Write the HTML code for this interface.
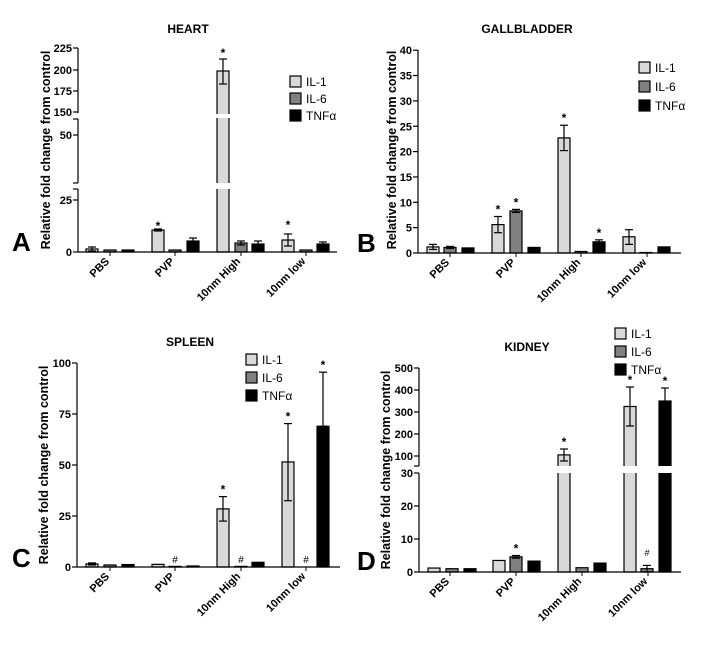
<!DOCTYPE html>
<html><head><meta charset="utf-8"><style>
body{margin:0;background:#fff}
svg text{font-family:"Liberation Sans",Arial,sans-serif}
</style></head><body>
<svg id="s" width="704" height="643" xmlns="http://www.w3.org/2000/svg"></svg>
<script>
const s=document.getElementById('s');let h='';
const C=['#d9d9d9','#808080','#000'];
function bar(x,top,bot,c,gaps){h+=`<rect x="${x}" y="${top}" width="12" height="${bot-top}" fill="${C[c]}" stroke="#000" stroke-width="1.2"/>`;
 (gaps||[]).forEach(g=>{h+=`<rect x="${x-2}" y="${g[0]}" width="16" height="${g[1]-g[0]}" fill="#fff"/>`;});}
function err(x,a,b){const c=x+6;h+=`<line x1="${c}" y1="${a}" x2="${c}" y2="${b}" stroke="#000" stroke-width="1.2"/><line x1="${c-4}" y1="${a}" x2="${c+4}" y2="${a}" stroke="#000" stroke-width="1.2"/><line x1="${c-4}" y1="${b}" x2="${c+4}" y2="${b}" stroke="#000" stroke-width="1.2"/>`;}
function txt(x,y,t,o){o=o||{};h+=`<text x="${x}" y="${y}" font-size="${o.fs||11}" font-weight="${o.w||'bold'}" text-anchor="${o.a||'middle'}" ${o.tr?`transform="${o.tr}"`:''} fill="#000">${t}</text>`;}
function star(x,y){txt(x+6,y,'*',{fs:12});}
function hash(x,y){txt(x+6,y,'#',{fs:10,w:'normal'});}
function axisSeg(ax,y1,y2){h+=`<line x1="${ax}" y1="${y1}" x2="${ax}" y2="${y2}" stroke="#000" stroke-width="1.2"/>`;}
function tick(ax,y,l){h+=`<line x1="${ax-5}" y1="${y}" x2="${ax}" y2="${y}" stroke="#000" stroke-width="1.2"/>`;if(l!==null)txt(ax-6,y+4,l,{a:'end'});}
function xaxis(ax,x2,y,gx){h+=`<line x1="${ax}" y1="${y}" x2="${x2}" y2="${y}" stroke="#000" stroke-width="1.2"/>`;
 ['PBS','PVP','10nm High','10nm low'].forEach((t,i)=>{const cx=gx[i];h+=`<line x1="${cx}" y1="${y}" x2="${cx}" y2="${y+4}" stroke="#000"/>`;txt(cx,y+10,t,{a:'end',fs:11,tr:`rotate(-45 ${cx} ${y+10})`});});}
function legend(x,y,dy){['IL-1','IL-6','TNF&#945;'].forEach((t,i)=>{h+=`<rect x="${x}" y="${y+i*dy}" width="11" height="11" fill="${C[i]}" stroke="#000" stroke-width="1.2"/>`;txt(x+16,y+i*dy+10,t,{a:'start',w:'normal',fs:12});});}
function ylab(x,cy){txt(x,cy,'Relative fold change from control',{fs:12.5,tr:`rotate(-90 ${x} ${cy})`});}
function panel(xs,y0,sc,vals){vals.forEach((v,i)=>{const x=xs[i];bar(x,y0-v[1]*sc,y0,v[0]);if(v[2])err(x,y0-v[2][1]*sc,y0-v[2][0]*sc);});}

// ===== A =====
txt(188,33,'HEART',{fs:12});
axisSeg(78,48,113);axisSeg(78,119,183);axisSeg(78,189,252);
tick(78,48,'225');tick(78,70,'200');tick(78,91,'175');tick(78,112,'150');tick(78,119,null);tick(78,135,'50');tick(78,183,null);tick(78,189,null);tick(78,200,'25');tick(78,252,'0');
const xa=[86,104,122,152,169,187,217,235,252,282,300,317];
bar(86,249,252,0);err(86,247,251);bar(104,250,252,1);bar(122,250,252,2);
bar(152,230,252,0);err(152,229,231);star(152,230);bar(169,250,252,1);bar(187,241,252,2);err(187,238,245);
bar(217,71,252,0,[[114,118],[183,189]]);err(217,59,84);star(217,57);bar(235,243,252,1);err(235,241,245);bar(252,244,252,2);err(252,241,247);
bar(282,240,252,0);err(282,234,246);star(282,229);bar(300,250,252,1);bar(317,244,252,2);err(317,242,246);
xaxis(78,337,252,[110,175,241,306]);
legend(290,76,17);ylab(50,150);txt(12,251,'A',{fs:26,a:'start'});

// ===== B =====
txt(527,33,'GALLBLADDER',{fs:12});
axisSeg(418,50,253);
for(let v=0;v<=40;v+=5)tick(418,253-v*5.07,String(v));
const xb=[427,444,462,492,510,528,558,575,593,623,640,658];
const sb=5.07,yb=253;
const vb=[[0,1.2,[0.7,1.7]],[1,1.1,[0.9,1.3]],[2,1],[0,5.6,[4,7.2]],[1,8.3,[8,8.6]],[2,1.1],[0,22.7,[20.2,25.2]],[1,0.3],[2,2.2,[1.8,2.6]],[0,3.2,[1.7,4.6]],[1,0.1],[2,1.2]];
panel(xb,yb,sb,vb);
star(492,yb-7.2*sb-3);star(510,yb-8.6*sb-3);star(558,yb-25.2*sb-3);star(593,yb-2.6*sb-3);
xaxis(418,681,253,[450,516,581,647]);
legend(639,62,19);ylab(396,150);txt(357,252,'B',{fs:26,a:'start'});

// ===== C =====
txt(190,346,'SPLEEN',{fs:12});
axisSeg(77,363,567);
[0,25,50,75,100].forEach(v=>tick(77,567-v*2.04,String(v)));
const sc=2.04,yc=567;
const vc=[[0,1.5,[1,2]],[1,1],[2,1.2],[0,1.3],[1,0.3],[2,0.5],[0,28.5,[22.5,34.5]],[1,0.3],[2,2.3],[0,51.5,[32.5,70.3]],[1,0],[2,69,[69,95.5]]];
panel(xa,yc,sc,vc);
hash(169,563);hash(235,563);hash(300,563);
star(217,yc-34.5*sc-3);star(282,yc-70.3*sc-3);star(317,yc-95.5*sc-3);
xaxis(77,340,567,[110,175,241,306]);
legend(246,354,18);ylab(48,465);txt(12,567,'C',{fs:26,a:'start'});

// ===== D =====
txt(527,351,'KIDNEY',{fs:12});
axisSeg(419,368,466);axisSeg(419,473,572);
const up=v=>456-(v-100)*0.22, lo=v=>572-v*3.3;
[100,200,300,400,500].forEach(v=>tick(419,up(v),String(v)));tick(419,466,null);
[0,10,20,30].forEach(v=>tick(419,lo(v),String(v)));
const xd=[428,446,464,493,510,528,558,576,594,624,641,659];
const vd=[[0,1.2],[1,1],[2,1],[0,3.5],[1,4.6,[4.2,5]],[2,3.3],null,[1,1.3],[2,2.7],null,[1,1,[0,2]],null];
vd.forEach((v,i)=>{if(!v)return;bar(xd[i],lo(v[1]),572,v[0]);if(v[2])err(xd[i],lo(v[2][1]),lo(v[2][0]));});
bar(558,up(105),572,0,[[466,473]]);err(558,449,461);star(558,446);
bar(624,up(325),572,0,[[466,473]]);err(624,387,426);star(624,384);
bar(659,up(350),572,2,[[466,473]]);err(659,388,416);star(659,385);
star(510,lo(5)-3);txt(647,556,'#',{fs:9,w:'normal'});
xaxis(419,681,572,[450,516,582,648]);
legend(615,328,18);ylab(390,470);txt(357,570,'D',{fs:26,a:'start'});
s.innerHTML=h;
</script>
</body></html>
